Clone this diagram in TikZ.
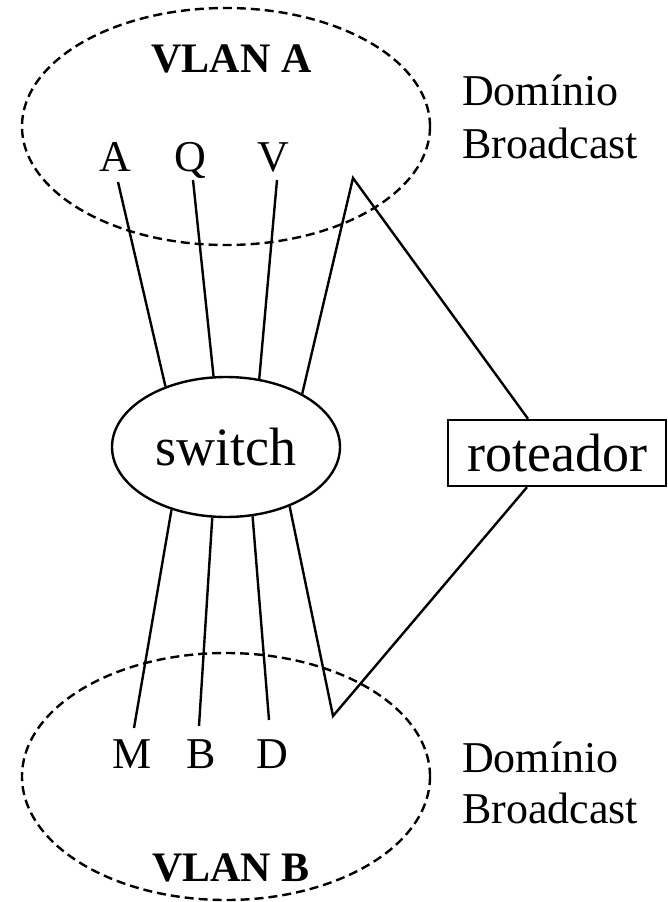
\documentclass[tikz,border=0pt]{standalone}
\usepackage{fontspec}
\setmainfont{Liberation Serif}
\usetikzlibrary{shapes.geometric,calc}
\begin{document}
\begin{tikzpicture}[x=1pt,y=1pt,
  wire/.style={line width=2.4pt},
  vlanzone/.style={ellipse,draw,line width=2.4pt,dash pattern=on 9pt off 5pt,inner sep=0pt},
  hostlbl/.style={anchor=base,inner sep=0pt,font=\fontsize{44}{53}\selectfont},
  vlanlbl/.style={anchor=base,inner sep=0pt,font=\fontsize{42}{50}\selectfont\bfseries},
  domlbl/.style={anchor=base west,inner sep=0pt,font=\fontsize{44}{53}\selectfont},
  bigtxt/.style={font=\fontsize{54}{60}\selectfont}]
\useasboundingbox (0,0) rectangle (668,-902);

% VLAN zones
\node[vlanzone,minimum width=408pt,minimum height=237pt] (vlanA) at (226,-126.5) {};
\node[vlanzone,minimum width=408pt,minimum height=247pt] (vlanB) at (226,-776.5) {};

\node[vlanlbl] (tA) at (231.5,-72) {VLAN A};
\node[vlanlbl] (tB) at (231,-881) {VLAN B};

% hosts
\node[hostlbl] (hA) at (115,-171) {A};
\node[hostlbl] (hQ) at (190,-171) {Q};
\node[hostlbl] (hV) at (273,-171) {V};
\node[hostlbl] (hM) at (132,-768) {M};
\node[hostlbl] (hB) at (201,-768) {B};
\node[hostlbl] (hD) at (272,-768) {D};

% domain labels
\node[domlbl] (d1) at (462,-105) {Domínio};
\node[domlbl] (b1) at (462,-158) {Broadcast};
\node[domlbl] (d2) at (462,-772) {Domínio};
\node[domlbl] (b2) at (462,-823) {Broadcast};

% switch and router
\node[ellipse,draw,line width=2.4pt,inner sep=0pt,minimum width=228pt,minimum height=140pt,bigtxt] (sw) at (226,-447) {switch};
\node[rectangle,draw,line width=2.4pt,inner sep=0pt,minimum width=218pt,minimum height=66pt,bigtxt] (rt) at (557,-453) {roteador};

% wire end points
\coordinate (eA) at (118,-182);
\coordinate (eQ) at (193,-180);
\coordinate (eV) at (277,-180);
\coordinate (pk) at (353,-178);
\coordinate (eM) at (134,-728);
\coordinate (eB) at (199,-726);
\coordinate (eD) at (269,-720);
\coordinate (pb) at (333,-716);
\coordinate (rtop) at ([xshift=-29pt]rt.north);
\coordinate (rbot) at ([xshift=-30pt]rt.south);

% wires
\draw[wire] (eA) -- (sw.135);
\draw[wire] (eQ) -- (sw.100.5);
\draw[wire] (eV) -- (sw.64.8);
\draw[wire] (sw.35.5) -- (pk) -- (rtop);
\draw[wire] (eM) -- (sw.229);
\draw[wire] (eB) -- (sw.259);
\draw[wire] (eD) -- (sw.291);
\draw[wire] (sw.317.7) -- (pb) -- (rbot);
\end{tikzpicture}
\end{document}
